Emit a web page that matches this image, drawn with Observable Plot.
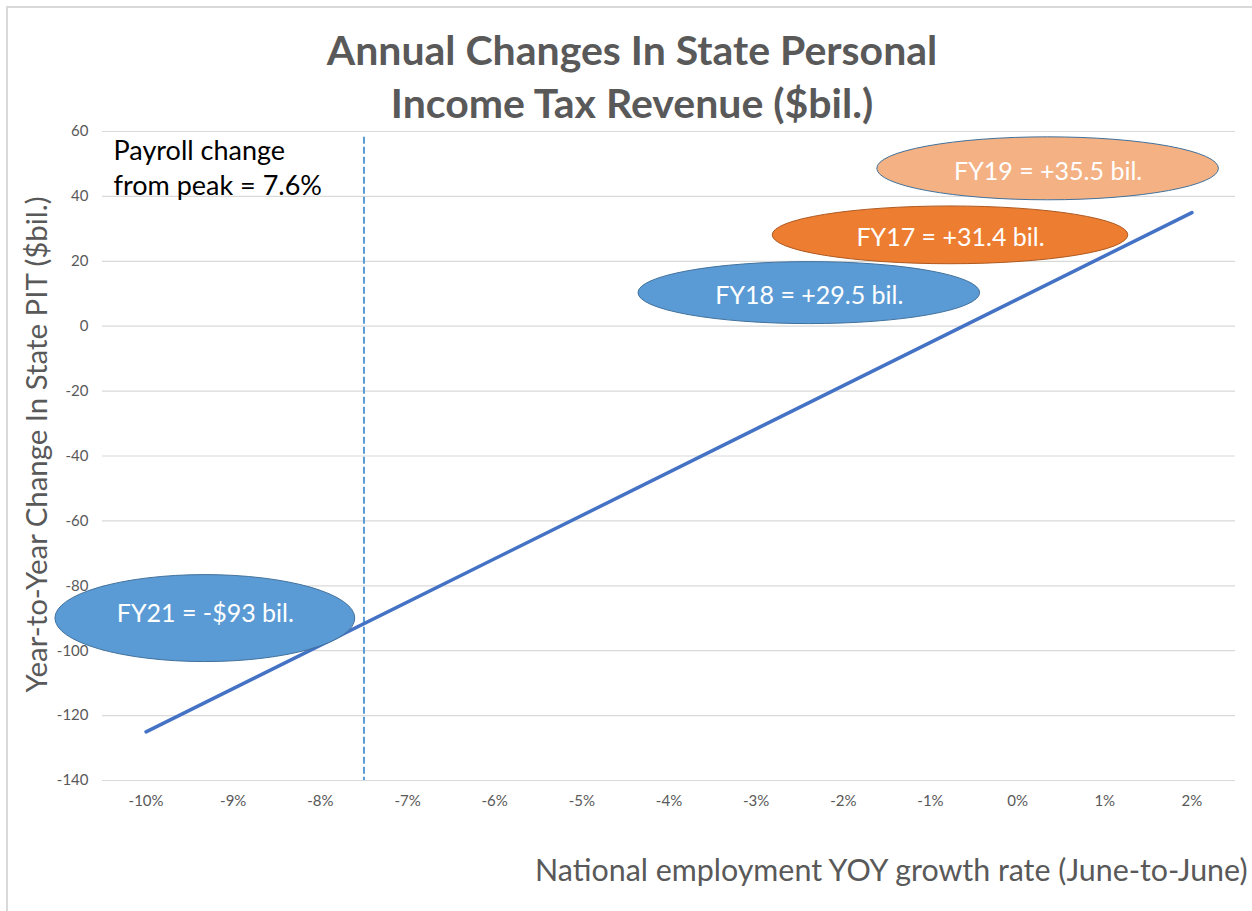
<!DOCTYPE html>
<html>
<head>
<meta charset="utf-8">
<script src="https://cdn.jsdelivr.net/npm/d3@7"></script>
<script src="https://cdn.jsdelivr.net/npm/@observablehq/plot@0.6"></script>
<style>
  html, body { margin: 0; padding: 0; background: #fff; overflow: hidden; }
  #wrap { position: relative; width: 1252px; height: 911px; }
  #border { position: absolute; left: 6px; top: 6px; width: 1300px; height: 1000px;
            border-top: 2px solid #D9D9D9; border-left: 2px solid #D9D9D9; pointer-events: none; }
</style>
</head>
<body>
<div id="wrap"><div id="border"></div></div>
<script>
// ---- data ----
const xTicks = [-10, -9, -8, -7, -6, -5, -4, -3, -2, -1, 0, 1, 2];
const yTicks = [-140, -120, -100, -80, -60, -40, -20, 0, 20, 40, 60];
const trendX = [-10, 2];
const trendY = [-125, 35];
const peakPayrollChange = -7.5;
const bubbleLabels = ["FY21 = -$93 bil.", "FY18 = +29.5 bil.", "FY17 = +31.4 bil.", "FY19 = +35.5 bil."];
const titleText = "Annual Changes In State Personal\nIncome Tax Revenue ($bil.)";
const noteText = "Payroll change\nfrom peak = 7.6%";
const yTitle = "Year-to-Year Change In State PIT ($bil.)";
const xTitle = "National employment YOY growth rate (June-to-June)";

// ---- annotation layout (positions in data units, styles) ----
const bubbleLayout = [
  {cx: -9.32, cy: -90.1, rx: 1.72, ry: 13.4, fill: "#5B9BD5", stroke: "#41719C", dy: -5},
  {cx: -2.39, cy: 10.2, rx: 1.96, ry: 9.55, fill: "#5B9BD5", stroke: "#41719C", dy: 3},
  {cx: -0.77, cy: 28.0, rx: 2.04, ry: 8.9, fill: "#ED7D31", stroke: "#AE5A21", dy: 3},
  {cx: 0.35, cy: 48.5, rx: 1.96, ry: 9.7, fill: "#F4B183", stroke: "#41719C", dy: 3}
];
const bubbles = bubbleLabels.map((label, i) => ({label, ...bubbleLayout[i]}));
const trend = trendX.map((x, i) => ({x, y: trendY[i]}));

function ellipseMark(index, scales) {
  const g = d3.create("svg:g");
  for (const b of bubbles) {
    const cx = scales.x(b.cx), cy = scales.y(b.cy);
    g.append("ellipse")
      .attr("cx", cx).attr("cy", cy)
      .attr("rx", Math.abs(scales.x(b.cx + b.rx) - cx))
      .attr("ry", Math.abs(scales.y(b.cy + b.ry) - cy))
      .attr("fill", b.fill).attr("stroke", b.stroke).attr("stroke-width", 1);
  }
  return g.node();
}

const grey = "#595959";
const chart = Plot.plot({
  width: 1252,
  height: 911,
  marginLeft: 102,
  marginRight: 17,
  marginTop: 131,
  marginBottom: 131,
  style: {fontFamily: "Lato, sans-serif", background: "transparent", overflow: "visible"},
  x: {domain: [-10.5, 2.5]},
  y: {domain: [-140, 60]},
  marks: [
    Plot.gridY(yTicks, {stroke: "#D9D9D9", strokeOpacity: 1, strokeWidth: 1.2}),
    Plot.axisY({ticks: yTicks, tickFormat: d => `${d}`, tickSize: 0, tickPadding: 14, fontSize: 15, color: grey, label: null}),
    Plot.axisX({ticks: xTicks, tickFormat: d => `${d}%`, tickSize: 0, tickPadding: 15, fontSize: 15, color: grey, label: null}),
    Plot.ruleX([peakPayrollChange], {y1: 58.2, y2: -140, stroke: "#5B9BD5", strokeWidth: 2, strokeDasharray: "7,3"}),
    Plot.line(trend, {x: "x", y: "y", stroke: "#4472C4", strokeWidth: 3.5}),
    ellipseMark,
    Plot.text(bubbles, {x: "cx", y: "cy", text: "label", fill: "white", fontSize: 25}),
    Plot.text([titleText], {frameAnchor: "top", text: d => d, dx: -37, dy: -14, lineAnchor: "bottom",
      fontSize: 41, fontWeight: "bold", fill: grey, lineHeight: 53 / 41}),
    Plot.text([noteText], {frameAnchor: "top-left", text: d => d, textAnchor: "start", dx: 11, dy: 63,
      lineAnchor: "bottom", fontSize: 27, fill: "#000", lineHeight: 35 / 27}),
    Plot.text([yTitle], {frameAnchor: "left", text: d => d, rotate: -90, textAnchor: "middle", dx: -56, dy: -11.5,
      lineAnchor: "bottom", fontSize: 29.4, fill: grey}),
    Plot.text([xTitle], {frameAnchor: "bottom-right", text: d => d, textAnchor: "end", dx: 12, dy: 100,
      lineAnchor: "bottom", fontSize: 30.4, fill: grey})
  ]
});
// apply per-label vertical nudges
d3.select(chart).selectAll("text").filter(function() { return bubbleLabels.includes(this.textContent); })
  .each(function() {
    const b = bubbles.find(b => b.label === this.textContent);
    const t = this.getAttribute("transform") || "";
    this.setAttribute("transform", t + ` translate(0,${b.dy})`);
  });
document.getElementById("wrap").appendChild(chart);
chart.style.position = "absolute";
chart.style.left = "0px";
chart.style.top = "0px";
</script>
</body>
</html>
